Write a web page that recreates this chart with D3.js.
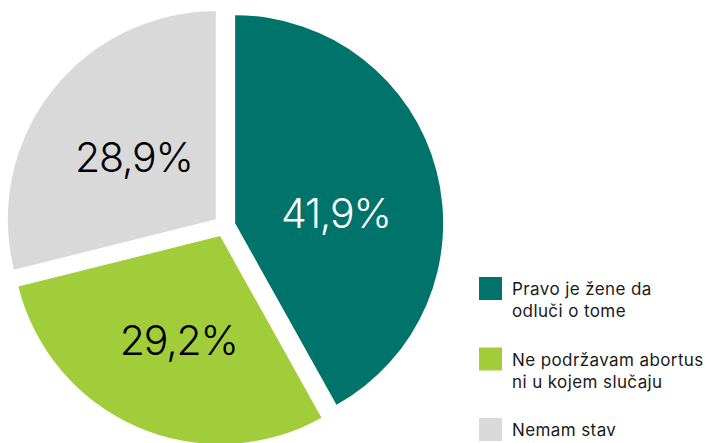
<!DOCTYPE html>
<html>
<head>
<meta charset="utf-8">
<script src="https://cdn.jsdelivr.net/npm/d3@7"></script>
<style>
  html, body { margin: 0; padding: 0; background: #fff; }
  svg { display: block; }
</style>
</head>
<body>
<svg id="chart" width="710" height="443"></svg>
<script>
// ---- data ----
const categories = ["Pravo je žene da odluči o tome", "Ne podržavam abortus ni u kojem slučaju", "Nemam stav"];
const legendLines = [["Pravo je žene da", "odluči o tome"], ["Ne podržavam abortus", "ni u kojem slučaju"], ["Nemam stav"]];
const values = [41.9, 29.2, 28.9];
const valueLabels = ["41,9%", "29,2%", "28,9%"];
const colors = ["#00736A", "#A2CD3A", "#D9D9D9"];
const labelColors = ["#ffffff", "#000000", "#000000"];

// ---- layout ----
const W = 710, H = 443;
const cx = 224.5, cy = 226, R = 208, explode = 11;
const labelNudgeY = [16, 8, 2];
const fontFamily = "Inter, 'Noto Sans', sans-serif";

const svg = d3.select("#chart");
const g = svg.append("g").attr("transform", `translate(${cx},${cy})`);

const pie = d3.pie().value(d => d).sort(null);
const arcs = pie(values);
const arc = d3.arc().innerRadius(0).outerRadius(R);

const slices = g.selectAll("g.slice").data(arcs).enter().append("g")
  .attr("class", "slice")
  .attr("transform", d => {
    const a = (d.startAngle + d.endAngle) / 2;
    return `translate(${explode * Math.sin(a)},${-explode * Math.cos(a)})`;
  });

slices.append("path")
  .attr("d", arc)
  .attr("fill", (d, i) => colors[i]);

slices.append("text")
  .attr("x", d => arc.centroid(d)[0])
  .attr("y", (d, i) => arc.centroid(d)[1] + labelNudgeY[i])
  .attr("text-anchor", "middle")
  .attr("dominant-baseline", "central")
  .attr("font-family", fontFamily)
  .attr("font-weight", 300)
  .attr("font-size", 41)
  .attr("letter-spacing", -1.2)
  .attr("fill", (d, i) => labelColors[i])
  .text((d, i) => valueLabels[i]);

// ---- legend ----
const legend = svg.append("g").attr("transform", "translate(479,277)");
const itemY = d3.scalePoint().domain(d3.range(categories.length)).range([0, 141]);
const items = legend.selectAll("g.item").data(categories).enter().append("g")
  .attr("class", "item")
  .attr("transform", (d, i) => `translate(0,${itemY(i)})`);

items.append("rect")
  .attr("width", 23).attr("height", 23)
  .attr("fill", (d, i) => colors[i]);

items.append("text")
  .attr("x", 33)
  .attr("y", 18)
  .attr("font-family", fontFamily)
  .attr("font-size", 17)
  .attr("letter-spacing", 0.4)
  .attr("fill", "#1a1a1a")
  .selectAll("tspan")
  .data((d, i) => legendLines[i])
  .enter().append("tspan")
  .attr("x", 33)
  .attr("dy", (d, j) => j === 0 ? 0 : 22)
  .text(d => d);
</script>
</body>
</html>
